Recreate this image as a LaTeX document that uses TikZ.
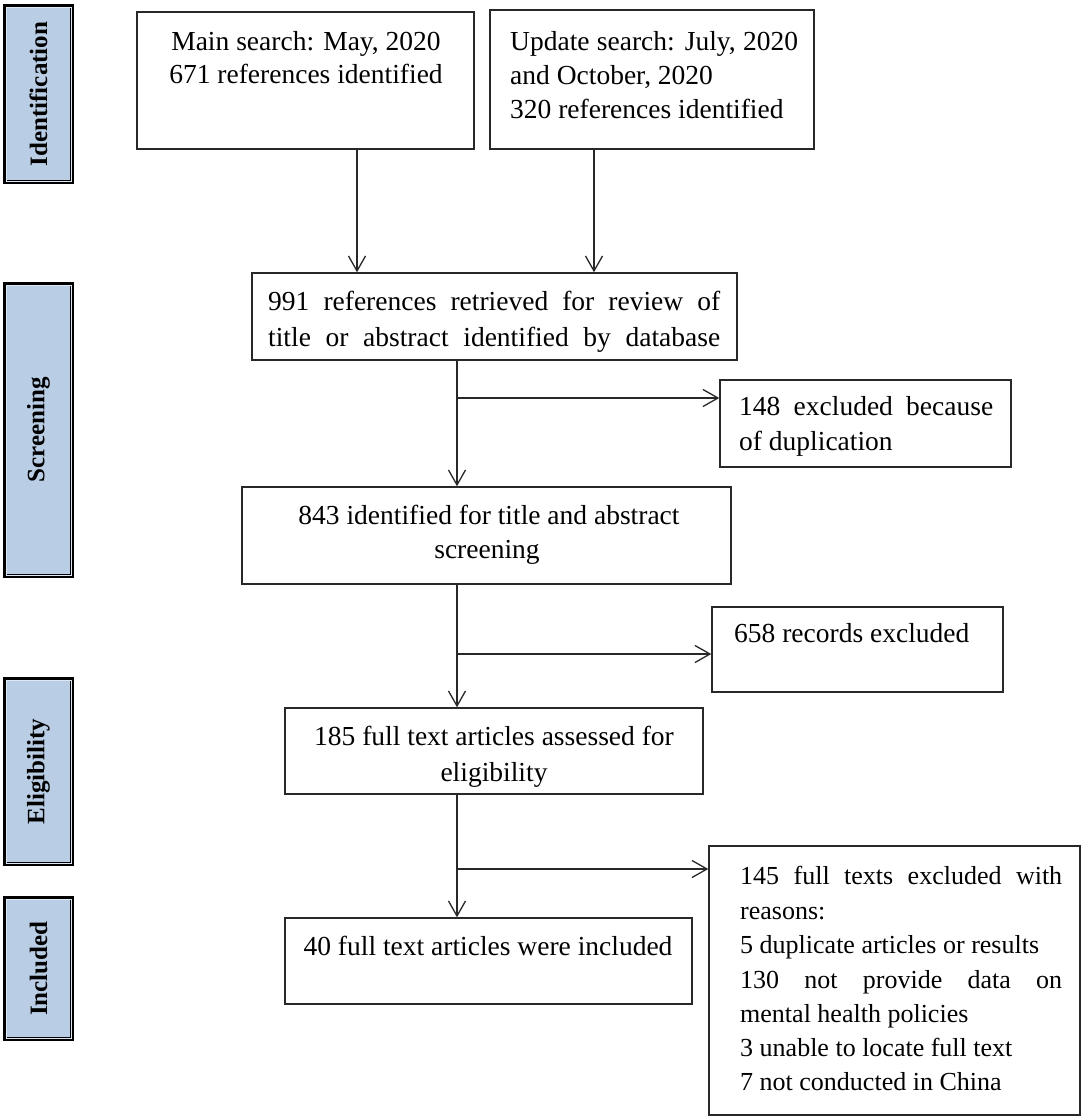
\documentclass[tikz,border=0pt]{standalone}
\usepackage{fontspec}
\setmainfont{Liberation Serif}
\usetikzlibrary{arrows.meta,fit}
\definecolor{barblue}{RGB}{185,205,229}
\definecolor{barlight}{RGB}{222,232,244}
\definecolor{linegray}{RGB}{40,40,40}
\newcommand{\jl}[2]{\makebox[#1][s]{#2}}
\begin{document}
\begin{tikzpicture}[x=1pt,y=-1pt,
  box/.style={draw=linegray, line width=1.4pt, inner sep=0pt},
  bar/.style={draw=black, line width=3.2pt, fill=barblue, inner sep=0pt},
  barin/.style={draw=barlight, line width=1pt},
  lab/.style={font=\fontsize{25}{29}\selectfont\bfseries, rotate=90, inner sep=0pt},
  txt/.style={font=\fontsize{27.5}{33}\selectfont, inner sep=0pt},
  txts/.style={font=\fontsize{26}{31}\selectfont, inner sep=0pt, anchor=base west},
  arr/.style={draw=linegray, line width=1.3pt, -{Straight Barb[length=15pt,width=17pt,line width=1.3pt]}}]
\useasboundingbox (0,0) rectangle (1084,1119);

% side bars
\node[bar, fit={(5,6)(72,182)}] (ident) {};
\node[bar, fit={(5,284)(72,576)}] (scr) {};
\node[bar, fit={(5,679)(72,864)}] (elig) {};
\node[bar, fit={(5,898)(72,1039)}] (incl) {};
\foreach \b in {ident,scr,elig,incl}
  \draw[barin] ([shift={(2.6,2.6)}]\b.north west) rectangle ([shift={(-2.6,-2.6)}]\b.south east);
\node[lab] at (ident.center) {Identification};
\node[lab] at (scr.center) {Screening};
\node[lab] at (elig.center) {Eligibility};
\node[lab] at (incl.center) {Included};

% boxes
\node[box, fit={(137,12)(474,149)}] (main) {};
\node[box, fit={(490,10)(814,149)}] (upd) {};
\node[box, fit={(252,273)(737,360)}] (r991) {};
\node[box, fit={(720,380)(1011,467)}] (x148) {};
\node[box, fit={(242,487)(731,584)}] (r843) {};
\node[box, fit={(712,607)(1003,692)}] (x658) {};
\node[box, fit={(285,708)(703,794)}] (r185) {};
\node[box, fit={(709,846)(1080,1115)}] (x145) {};
\node[box, fit={(285,918)(692,1004)}] (r40) {};

% texts
\node[txt, anchor=base] at (306,50) {Main search: May, 2020};
\node[txt, anchor=base] at (306,83) {671 references identified};
\node[txt, anchor=base west] at (510,50) {\jl{288pt}{Update search: July, 2020}};
\node[txt, anchor=base west] at (510,84) {and October, 2020};
\node[txt, anchor=base west] at (510,118) {320 references identified};
\node[txt, anchor=base west] at (268,310) {\jl{452pt}{991 references retrieved for review of}};
\node[txt, anchor=base west] at (268,346) {\jl{452pt}{title or abstract identified by database}};
\node[txt, anchor=base west] at (739,415) {\jl{254pt}{148 excluded because}};
\node[txt, anchor=base west] at (739,450) {of duplication};
\node[txt, anchor=base] at (489,524) {843 identified for title and abstract};
\node[txt, anchor=base] at (487,558) {screening};
\node[txt, anchor=base west] at (734,642) {658 records excluded};
\node[txt, anchor=base] at (494,745) {185 full text articles assessed for};
\node[txt, anchor=base] at (494,781) {eligibility};
\node[txt, anchor=base] at (488,955) {40 full text articles were included};
\node[txts] at (740,884) {\jl{322pt}{145 full texts excluded with}};
\node[txts] at (740,919) {reasons:};
\node[txts] at (740,953) {5 duplicate articles or results};
\node[txts] at (740,988) {\jl{322pt}{130 not provide data on}};
\node[txts] at (740,1022) {mental health policies};
\node[txts] at (740,1056) {3 unable to locate full text};
\node[txts] at (740,1090) {7 not conducted in China};

% connector coordinates
\coordinate (xa) at (357,0);
\coordinate (xb) at (594,0);
\coordinate (v1) at (457,0);
\coordinate (b1) at (457,398);
\coordinate (b2) at (457,654);
\coordinate (b3) at (457,869);

\draw[arr] (main.south -| xa) -- (r991.north -| xa);
\draw[arr] (upd.south -| xb) -- (r991.north -| xb);
\draw[arr] (r991.south -| v1) -- (r843.north -| v1);
\draw[arr] (b1) -- (b1 -| x148.west);
\draw[arr] (r843.south -| v1) -- (r185.north -| v1);
\draw[arr] (b2) -- (b2 -| x658.west);
\draw[arr] (r185.south -| v1) -- (r40.north -| v1);
\draw[arr] (b3) -- (b3 -| x145.west);
\end{tikzpicture}
\end{document}
